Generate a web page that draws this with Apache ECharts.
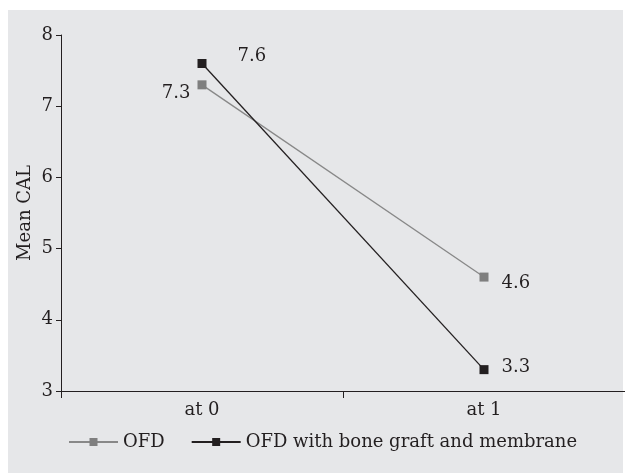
<!DOCTYPE html>
<html><head><meta charset="utf-8">
<script src="https://cdn.jsdelivr.net/npm/echarts@6/dist/echarts.min.js"></script>
<style>html,body{margin:0;padding:0;background:#fff}#c{width:625px;height:473px}</style>
</head><body><div id="c"></div>
<script>
const categories = ['at 0', 'at 1'];
const ofd = [7.3, 4.6];
const ofdGraft = [7.6, 3.3];
const yTicks = [3, 4, 5, 6, 7, 8];
const seriesNames = ['OFD', 'OFD with bone graft and membrane'];

const FONT = 'DejaVu Serif';
const FS = 18;
const INK = '#231f20';
const GRAY = '#888888';

const chart = echarts.init(document.getElementById('c'), null, {renderer: 'canvas'});
chart.setOption({
  backgroundColor: '#ffffff',
  animation: false,
  textStyle: {fontFamily: FONT},
  graphic: [{type: 'rect', shape: {x: 8, y: 10, width: 615, height: 463}, style: {fill: '#e6e7e9'}, z: -10, silent: true}],
  grid: {left: 61, top: 35, height: 356, width: 568},
  legend: {
    left: 68, top: 433, padding: 0, itemWidth: 49, itemHeight: 10, itemGap: 26,
    textStyle: {fontFamily: FONT, fontSize: FS, color: INK},
    data: seriesNames
  },
  xAxis: {
    type: 'category', data: categories, boundaryGap: true,
    axisLine: {lineStyle: {color: INK, width: 1}},
    axisTick: {show: true, length: 7, lineStyle: {color: INK}},
    axisLabel: {fontFamily: FONT, fontSize: FS, color: INK, margin: 10}
  },
  yAxis: {
    type: 'value', min: yTicks[0], max: yTicks[yTicks.length - 1], interval: 1,
    name: 'Mean CAL', nameLocation: 'middle', nameGap: 27, nameMoveOverlap: false,
    nameTextStyle: {fontFamily: FONT, fontSize: FS, color: INK},
    axisLine: {show: true, lineStyle: {color: INK, width: 1}},
    axisTick: {show: true, length: 5, lineStyle: {color: INK}},
    splitLine: {show: false},
    axisLabel: {fontFamily: FONT, fontSize: FS, color: INK, margin: 8}
  },
  series: [
    {
      name: seriesNames[0], type: 'line', data: ofd.map((v, i) => ({
        value: v,
        label: i === 0 ? {position: 'left', offset: [-2, 8]} : {position: 'right', offset: [8, 6]}
      })),
      symbol: 'rect', symbolSize: 9,
      itemStyle: {color: '#7f7f7f'}, lineStyle: {color: GRAY, width: 1.3},
      label: {show: true, fontFamily: FONT, fontSize: FS, color: INK}
    },
    {
      name: seriesNames[1], type: 'line', data: ofdGraft.map((v, i) => ({
        value: v,
        label: i === 0 ? {position: 'right', offset: [26, -7]} : {position: 'right', offset: [8, -2]}
      })),
      symbol: 'rect', symbolSize: 9,
      itemStyle: {color: INK}, lineStyle: {color: INK, width: 1.3},
      label: {show: true, fontFamily: FONT, fontSize: FS, color: INK}
    }
  ]
});
</script></body></html>
